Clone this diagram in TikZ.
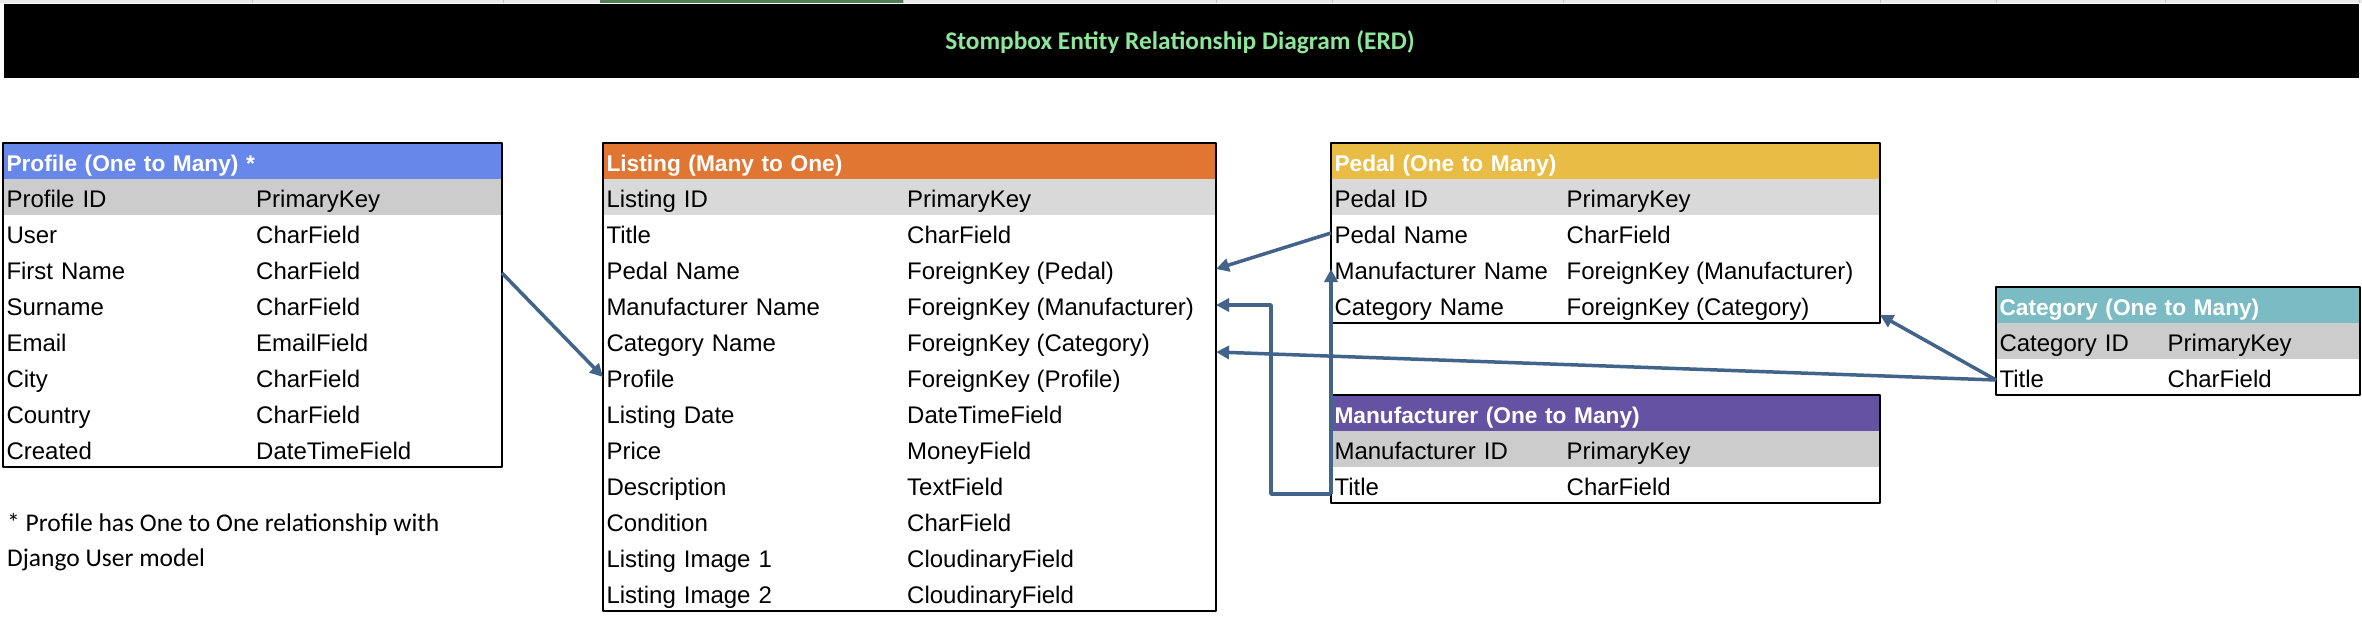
\documentclass[tikz,border=0pt]{standalone}
\usepackage{fontspec}
\setmainfont{Liberation Sans}
\newfontfamily\notefont{Carlito}
\usetikzlibrary{arrows.meta}
\definecolor{profblue}{HTML}{6787EA}
\definecolor{listorange}{HTML}{E07632}
\definecolor{pedalgold}{HTML}{E9BD45}
\definecolor{manpurple}{HTML}{6652A2}
\definecolor{catteal}{HTML}{7BBCC4}
\definecolor{greyA}{HTML}{CCCCCC}
\definecolor{greyB}{HTML}{D9D9D9}
\definecolor{linkblue}{HTML}{42648A}
\definecolor{titlegreen}{HTML}{8EE69A}
\definecolor{stripgrey}{HTML}{E9E9E9}
\definecolor{sepgrey}{HTML}{C6C6C6}
\definecolor{selgreen}{HTML}{4E7E52}
\begin{document}
\begin{tikzpicture}[x=1pt, y=-1pt, line join=round,
	font={\fontsize{24pt}{28pt}\selectfont},
	cell/.style={rectangle, anchor=north west, inner xsep=3.5pt, inner ysep=0pt, outer sep=0pt, text height=28.5pt, text depth=7.5pt, align=left},
	head/.style={cell, text=white, font={\fontsize{22.7pt}{26pt}\selectfont\bfseries}},
	val/.style={anchor=base west, inner sep=0pt},
	box/.style={draw=black, line width=2.5pt},
	note/.style={anchor=base west, inner sep=0pt, font={\notefont\fontsize{25.5pt}{30pt}\selectfont}},
	link/.style={draw=linkblue, line width=3.5pt, -{Triangle[length=13pt,width=13pt]}}]
	% Nen va tieu de
	\fill[white] (0,0) rectangle (2362,618);
	\useasboundingbox (0,0) rectangle (2362,618);
	\fill[stripgrey] (0,0) rectangle (2362,3.5);
	\foreach \c in {252,503,903,1216,1332,1563,1880,1996,2165,2359}
		\draw[sepgrey, line width=1pt] (\c,0) -- (\c,3.5);
	\fill[selgreen] (600,0) rectangle (903,3.5);
	\fill[black] (4,4) rectangle (2359,78);
	\node[anchor=base, inner sep=0pt, text=titlegreen, font={\notefont\bfseries\fontsize{25.4pt}{30pt}\selectfont}] (title) at (1180,50) {Stompbox Entity Relationship Diagram (ERD)};
	
	% Profile
	\node[head, fill=profblue, text width=492pt] (prof) at (3,143) {Profile (One to Many) *};
	\node[cell, fill=greyA, text width=492pt] (prof1) at (3,179) {Profile ID};
	\node[val] (profT1) at ([xshift=253pt]prof1.base west) {PrimaryKey};
	\foreach \k/\t [count=\i from 2] in {User/CharField, First Name/CharField, Surname/CharField, Email/EmailField, City/CharField, Country/CharField, Created/DateTimeField}{
		\node[cell, text width=492pt] (prof\i) at (3,143+36*\i) {\k};
		\node[val] (profT\i) at ([xshift=253pt]prof\i.base west) {\t};
	}
	\draw[box] (prof.north west) rectangle (prof8.south east);
	\node[note] (note1) at (7,531.5) {* Profile has One to One relationship with};
	\node[note] (note2) at (7,566) {Django User model};
	
	% Listing
	\node[head, fill=listorange, text width=606pt] (list) at (603,143) {Listing (Many to One)};
	\node[cell, fill=greyB, text width=606pt] (list1) at (603,179) {Listing ID};
	\node[val] (listT1) at ([xshift=304pt]list1.base west) {PrimaryKey};
	\foreach \k/\t [count=\i from 2] in {Title/CharField, Pedal Name/{ForeignKey (Pedal)}, Manufacturer Name/{ForeignKey (Manufacturer)}, Category Name/{ForeignKey (Category)}, Profile/{ForeignKey (Profile)}, Listing Date/DateTimeField, Price/MoneyField, Description/TextField, Condition/CharField, Listing Image 1/CloudinaryField, Listing Image 2/CloudinaryField}{
		\node[cell, text width=606pt] (list\i) at (603,143+36*\i) {\k};
		\node[val] (listT\i) at ([xshift=304pt]list\i.base west) {\t};
	}
	\draw[box] (list.north west) rectangle (list12.south east);
	
	% Pedal
	\node[head, fill=pedalgold, text width=542pt] (ped) at (1331,143) {Pedal (One to Many)};
	\node[cell, fill=greyB, text width=542pt] (ped1) at (1331,179) {Pedal ID};
	\node[val] (pedT1) at ([xshift=235.5pt]ped1.base west) {PrimaryKey};
	\foreach \k/\t [count=\i from 2] in {Pedal Name/CharField, Manufacturer Name/{ForeignKey (Manufacturer)}, Category Name/{ForeignKey (Category)}}{
		\node[cell, text width=542pt] (ped\i) at (1331,143+36*\i) {\k};
		\node[val] (pedT\i) at ([xshift=235.5pt]ped\i.base west) {\t};
	}
	\draw[box] (ped.north west) rectangle (ped4.south east);
	
	% Manufacturer
	\node[head, fill=manpurple, text width=542pt] (man) at (1331,395) {Manufacturer (One to Many)};
	\node[cell, fill=greyA, text width=542pt] (man1) at (1331,431) {Manufacturer ID};
	\node[val] (manT1) at ([xshift=235.5pt]man1.base west) {PrimaryKey};
	\node[cell, text width=542pt] (man2) at (1331,467) {Title};
	\node[val] (manT2) at ([xshift=235.5pt]man2.base west) {CharField};
	\draw[box] (man.north west) rectangle (man2.south east);
	
	% Category
	\node[head, fill=catteal, text width=357pt] (cat) at (1996,287) {Category (One to Many)};
	\node[cell, fill=greyA, text width=357pt] (cat1) at (1996,323) {Category ID};
	\node[val] (catT1) at ([xshift=171.5pt]cat1.base west) {PrimaryKey};
	\node[cell, text width=357pt] (cat2) at (1996,359) {Title};
	\node[val] (catT2) at ([xshift=171.5pt]cat2.base west) {CharField};
	\draw[box] (cat.north west) rectangle (cat2.south east);
	
	% Lien ket
	\draw[link] ([yshift=-4pt]prof3.east) -- (list6.west);
	\draw[link] (ped2.west) -- (list3.east);
	\draw[link] ([yshift=-9pt]man2.west) -- ++(-60,0) |- (list4.east);
	\draw[link] ([yshift=-9pt]man2.west) -- (ped3.west);
	\draw[link] ([yshift=-3pt]cat2.west) -- ([yshift=-11pt]list5.east);
	\draw[link] ([yshift=-3pt]cat2.west) -- ([yshift=8pt]ped4.south east);
\end{tikzpicture}
\end{document}
